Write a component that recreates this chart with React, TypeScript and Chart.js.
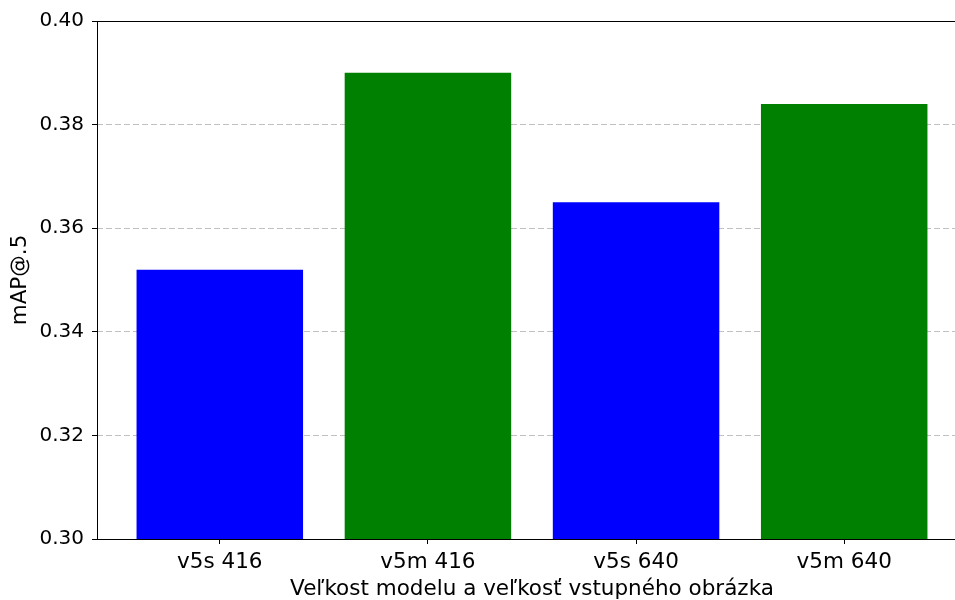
import React, { useEffect, useRef } from "react";
import { Chart, registerables } from "chart.js";

Chart.register(...registerables);

const categories: string[] = ["v5s 416", "v5m 416", "v5s 640", "v5m 640"];
const mapValues: number[] = [0.352, 0.39, 0.365, 0.384];
const barColors: string[] = ["#0000ff", "#008000", "#0000ff", "#008000"];
const yTicks: number[] = [0.3, 0.32, 0.34, 0.36, 0.38, 0.4];
const xTitle = "Veľkost modelu a veľkosť vstupného obrázka";
const yTitle = "mAP@.5";

const FONT = "'DejaVu Sans', sans-serif";

const spinePlugin = {
  id: "spines",
  afterDraw(chart: any) {
    const { ctx, chartArea } = chart;
    ctx.save();
    ctx.strokeStyle = "#000000";
    ctx.lineWidth = 1;
    ctx.strokeRect(
      Math.round(chartArea.left) + 0.5,
      Math.round(chartArea.top) + 0.5,
      Math.round(chartArea.right - chartArea.left),
      Math.round(chartArea.bottom - chartArea.top)
    );
    ctx.restore();
  },
};

export default function App() {
  const ref = useRef<HTMLCanvasElement | null>(null);

  useEffect(() => {
    if (!ref.current) return;
    const chart = new Chart(ref.current, {
      type: "bar",
      data: {
        datasets: [
          {
            data: categories.map((_, i) => ({ x: i, y: mapValues[i] })),
            backgroundColor: barColors,
            borderWidth: 0,
            barPercentage: 0.8,
            categoryPercentage: 1,
          },
        ],
      },
      options: {
        responsive: false,
        animation: false,
        devicePixelRatio: 1,
        layout: { padding: { left: 0, top: 21, right: 13, bottom: 0 } },
        plugins: {
          legend: { display: false },
          tooltip: { enabled: false },
        },
        scales: {
          x: {
            type: "linear",
            min: -0.59,
            max: 3.59,
            offset: false,
            afterBuildTicks: (scale: any) => {
              scale.ticks = categories.map((_, i) => ({ value: i }));
            },
            afterFit: (scale: any) => {
              scale.height = 61;
              scale.paddingLeft = 0;
              scale.paddingRight = 0;
            },
            ticks: {
              autoSkip: false,
              maxRotation: 0,
              color: "#000000",
              font: { family: FONT, size: 21.5 },
              padding: 6,
              callback: (v: any) => categories[Math.round(Number(v))] ?? "",
            },
            grid: {
              offset: false,
              drawOnChartArea: false,
              drawTicks: true,
              tickLength: 5,
              tickColor: "#000000",
              tickWidth: 1,
            },
            border: { display: false },
            title: {
              display: true,
              text: xTitle,
              color: "#000000",
              font: { family: FONT, size: 21.5 },
              padding: { top: 0, bottom: -2 },
            },
          },
          y: {
            type: "linear",
            min: 0.3,
            max: 0.4,
            z: 1,
            afterBuildTicks: (scale: any) => {
              scale.ticks = yTicks.map((v) => ({ value: v }));
            },
            afterFit: (scale: any) => {
              scale.width = 97;
            },
            ticks: {
              color: "#000000",
              font: { family: FONT, size: 20 },
              padding: 8,
              callback: (v: any) => Number(v).toFixed(2),
            },
            grid: {
              color: "rgba(176,176,176,0.8)",
              lineWidth: 1,
              tickColor: "#000000",
              tickLength: 5,
              tickWidth: 1,
              drawTicks: true,
            },
            border: { display: false, dash: [6, 3] },
            title: {
              display: true,
              text: yTitle,
              color: "#000000",
              font: { family: FONT, size: 21.5 },
              padding: { top: 8, bottom: 0 },
            },
          },
        },
      } as any,
      plugins: [spinePlugin],
    });
    return () => chart.destroy();
  }, []);

  return (
    <div
      style={{
        position: "absolute",
        left: 0,
        top: 0,
        width: 955,
        height: 600,
        overflow: "hidden",
        background: "#ffffff",
      }}
    >
      <canvas ref={ref} width={980} height={600} style={{ width: 980, height: 600, display: "block" }} />
    </div>
  );
}
